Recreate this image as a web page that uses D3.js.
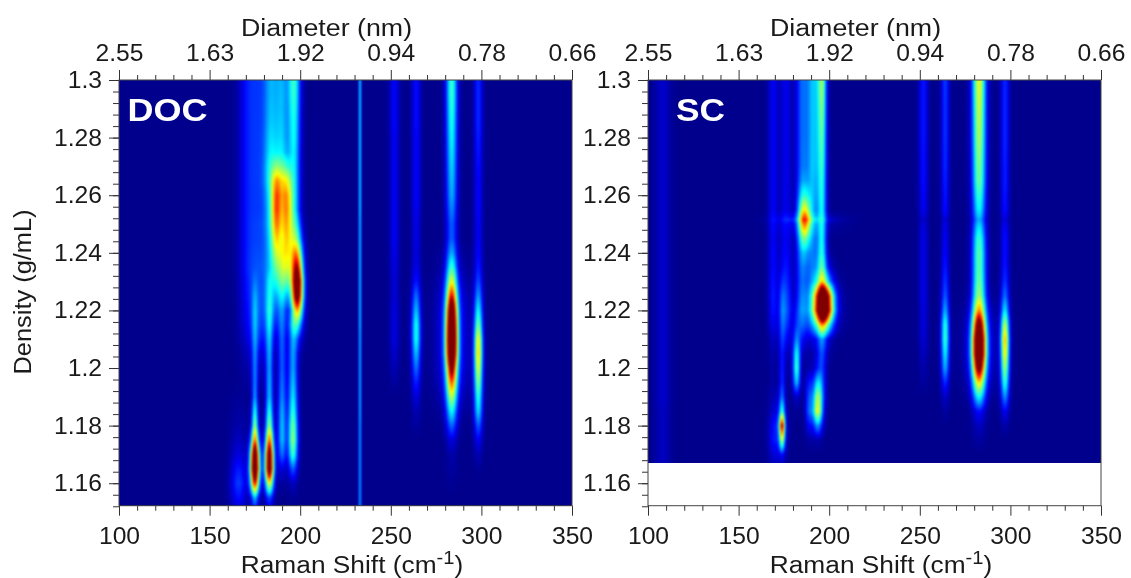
<!DOCTYPE html>
<html>
<head>
<meta charset="utf-8">
<script src="https://cdn.jsdelivr.net/npm/d3@7/dist/d3.min.js"></script>
<style>
    html, body { margin: 0; padding: 0; background: #fff; }
    #chart { position: relative; width: 1131px; height: 578px; overflow: hidden; }
    .image { position: absolute; overflow: hidden; }
    canvas { position: absolute; left: -4px; top: -4px; filter: blur(0.8px); }
    svg { position: absolute; left: 0; top: 0; }
    text { font-family: "Liberation Sans", Arial, sans-serif; fill: #1a1a1a; }
</style>
</head>
<body>
<div id="chart"></div>
<script>
// Tick labels
const shiftTicks = [100, 150, 200, 250, 300, 350];
const diameterLabels = ["2.55", "1.63", "1.92", "0.94", "0.78", "0.66"];
const densityTicks = [1.3, 1.28, 1.26, 1.24, 1.22, 1.2, 1.18, 1.16];

// Intensity colours (jet)
const jetValues = [0, 0.11, 0.36, 0.5, 0.64, 0.89, 1];
const jetColors = ["#00008c", "#0000ff", "#00ffff", "#80ff80", "#ffff00", "#ff0000", "#800000"];

// DOC panel, density rows of the table below
const docDensity = [1.3, 1.295, 1.29, 1.285, 1.28, 1.275, 1.27, 1.265, 1.26, 1.255,
    1.25, 1.245, 1.24, 1.235, 1.23, 1.225, 1.22, 1.215, 1.21, 1.205,
    1.2, 1.195, 1.19, 1.185, 1.18, 1.175, 1.17, 1.165, 1.16, 1.155, 1.15];

// Each band: Raman shift, line width (both cm-1), intensity at each density row
const docBands = [
    [166, 3, [0,0,0,0,0, 0,0,0,0,0, 0,0,0,0,0, 0,0,0,0,0, 0,0,.01,.02,.03, .05,.08,.13,.17,.12, .05]],
    [171, 3.5, [.11,.11,.11,.11,.11, .11,.11,.11,.11,.11, .11,.11,.11,.11,.1, .09,.08,.07,.05,.03, .02,.01,0,0,0, 0,0,0,0,0, 0]],
    [177, 3.5, [.12,.12,.12,.12,.12, .12,.12,.12,.12,.12, .13,.13,.14,.15,.15, .16,.16,.15,.12,.07, .04,.02,0,0,0, 0,0,0,0,0, 0]],
    [175, 1.1, [0,0,0,0,0, 0,0,0,0,0, 0,0,0,0,.05, .1,.14,.15,.16,.18, .2,.22,.26,.33,.42, .35,.2,.1,.1,.15, .05]],
    [175, 1.8, [0,0,0,0,0, 0,0,0,0,0, 0,0,0,0,0, 0,0,0,0,0, 0,0,0,.05,.1, .45,1.05,1.25,.8,.15, .02]],
    [183, 1.4, [0,0,0,0,0, 0,0,0,0,0, 0,0,0,0,.1, .15,.2,.22,.23,.25, .26,.28,.3,.36,.42, .35,.2,.1,.08,.06, .02]],
    [183, 1.7, [0,0,0,0,0, 0,0,0,0,0, 0,0,0,0,0, 0,0,0,0,0, 0,0,0,.03,.1, .45,.95,1.1,.55,.12, .02]],
    [190, 1.6, [0,0,0,0,0, 0,0,0,0,0, 0,0,.08,.1,.1, .1,.12,.16,.2,.2, .2,.22,.24,.28,.3, .3,.22,.08,.02,0, 0]],
    [196, 1.8, [0,0,0,0,0, 0,0,0,0,0, 0,0,0,0,0, 0,0,.2,.24,.26, .27,.3,.34,.4,.48, .52,.42,.2,.05,.01, 0]],
    [184, 3, [.26,.26,.27,.28,.3, .32,.35,.35,.3,.28, .28,.26,.25,.25,.22, .2,.18,.12,.06,.02, 0,0,0,0,0, 0,0,0,0,0, 0]],
    [190, 2.5, [.24,.25,.25,.26,.27, .28,.3,.3,.25,.2, .2,.2,.2,.2,.2, .18,.12,.06,0,0, 0,0,0,0,0, 0,0,0,0,0, 0]],
    [187, 2.1, [0,0,0,0,0, .02,.15,.38,.52,.56, .5,.42,.32,.22,.14, .05,0,0,0,0, 0,0,0,0,0, 0,0,0,0,0, 0]],
    [192.5, 2.1, [0,0,0,0,0, .02,.15,.36,.5,.54, .5,.46,.4,.34,.22, .08,0,0,0,0, 0,0,0,0,0, 0,0,0,0,0, 0]],
    [196.5, 2.4, [.42,.41,.39,.37,.36, .34,.33,.33,.33,.33, .35,.37,.38,.32,.22, .14,.1,.05,0,0, 0,0,0,0,0, 0,0,0,0,0, 0]],
    [198.5, 2.2, [0,0,0,0,0, 0,0,0,0,0, .08,.2,.45,.75,1.1, 1.05,.65,.3,.1,.02, 0,0,0,0,0, 0,0,0,0,0, 0]],
    [233, 0.45, [.38,.38,.38,.38,.38, .38,.38,.38,.38,.38, .36,.36,.36,.36,.36, .36,.36,.36,.34,.34, .34,.34,.34,.34,.32, .32,.32,.32,.32,.32, .32]],
    [252, 1.8, [.11,.11,.11,.11,.1, .1,.1,.1,.1,.1, .1,.1,.09,.08,.07, .07,.08,.08,.08,.06, .04,.02,0,0,0, 0,0,0,0,0, 0]],
    [264, 1.7, [.12,.12,.12,.12,.11, .11,.11,.11,.11,.1, .09,.09,.08,.09,.13, .22,.3,.38,.38,.3, .22,.14,.08,.04,.02, 0,0,0,0,0, 0]],
    [283.6, 2.1, [.42,.42,.4,.38,.36, .34,.32,.3,.28,.24, .2,.2,.26,.38,.55, .8,1.15,1.35,1.45,1.35, .95,.7,.5,.34,.2, .08,.03,.02,.01,0, 0]],
    [284, 5.5, [0,0,0,0,0, 0,0,0,0,0, 0,0,.02,.04,.08, .12,.14,.15,.15,.15, .14,.11,.07,.03,.01, 0,0,0,0,0, 0]],
    [298.3, 1.6, [.15,.15,.15,.15,.14, .13,.12,.11,.11,.11, .1,.1,.11,.13,.18, .26,.36,.48,.64,.68, .6,.5,.4,.33,.2, .1,.04,.01,0,0, 0]]
];

// SC panel, scan stops at 1.167
const scDensity = [1.3, 1.29, 1.28, 1.27, 1.265, 1.26, 1.255, 1.253, 1.2515, 1.25,
    1.245, 1.24, 1.235, 1.23, 1.225, 1.22, 1.215, 1.21, 1.205, 1.2,
    1.195, 1.19, 1.185, 1.18, 1.175, 1.17, 1.167];

const scBands = [
    [108, 3, [.06,.06,.06,.06,.06, .06,.06,.06,.06,.06, .06,.06,.06,.06,.06, .06,.06,.06,.06,.06, .06,.06,.05,.05,.05, .05,.05]],
    [169, 1.8, [.1,.1,.1,.1,.1, .1,.1,.1,.1,.1, .1,.11,.11,.12,.13, .12,.09,.05,.03,.02, .02,.02,.02,.04,.06, .04,.03]],
    [176, 2.5, [.09,.09,.09,.09,.09, .09,.09,.09,.09,.09, .1,.11,.13,.15,.18, .2,.16,.1,.04,.02, .01,0,0,0,0, 0,0]],
    [185, 2.2, [.2,.2,.2,.2,.2, .2,.2,.2,.2,.2, .2,.2,.2,.2,.22, .24,.19,.1,.03,0, 0,0,0,0,0, 0,0]],
    [191, 2.5, [.3,.3,.3,.3,.28, .26,.22,.2,.2,.2, .2,.2,.2,.2,.2, .2,.15,.06,.02,0, 0,0,0,0,0, 0,0]],
    [196, 1.7, [.5,.46,.42,.38,.36, .35,.34,.32,.3,.32, .34,.35,.35,.3,.2, .2,.2,.18,.16,.14, .12,.1,.04,.02,0, 0,0]],
    [186.6, 2.4, [0,0,0,.01,.06, .2,.45,.55,.58,.55, .3,.1,.03,0,0, 0,0,0,0,0, 0,0,0,0,0, 0,0]],
    [188, 11, [0,0,0,0,0, 0,0,.05,.12,.05, 0,0,0,0,0, 0,0,0,0,0, 0,0,0,0,0, 0,0]],
    [197, 3.4, [0,0,0,0,0, 0,0,0,0,0, 0,.02,.1,.35,1.2, 1.3,.5,.08,.02,0, 0,0,0,0,0, 0,0]],
    [197, 6, [0,0,0,0,0, 0,0,0,0,0, 0,0,0,.03,.08, .1,.06,0,0,0, 0,0,0,0,0, 0,0]],
    [193.6, 1.8, [0,0,0,0,0, 0,0,0,0,0, 0,0,0,0,0, 0,0,0,.02,.08, .3,.52,.62,.25,.03, 0,0]],
    [189, 1.5, [0,0,0,0,0, 0,0,0,0,0, 0,0,0,0,0, 0,0,0,0,.03, .12,.18,.2,.1,.02, 0,0]],
    [182, 1.4, [0,0,0,0,0, 0,0,0,0,0, 0,0,0,0,0, .03,.08,.2,.36,.42, .3,.06,.01,0,0, 0,0]],
    [174, 1.1, [0,0,0,0,0, 0,0,0,0,0, 0,0,0,.04,.08, .1,.1,.1,.1,.12, .14,.2,.36,.9,.5, .08,.03]],
    [172, 3, [0,0,0,0,0, 0,0,0,0,0, 0,0,0,0,0, 0,0,0,0,0, 0,.03,.07,.12,.1, .05,.03]],
    [252, 1.7, [.13,.13,.13,.12,.12, .11,.1,.08,.06,.08, .09,.09,.09,.09,.09, .08,.08,.07,.05,.03, .02,0,0,0,0, 0,0]],
    [264, 1.5, [.17,.16,.16,.15,.14, .13,.12,.1,.07,.09, .1,.11,.13,.16,.2, .28,.4,.42,.35,.28, .15,.06,.02,0,0, 0,0]],
    [282.7, 2.5, [.62,.58,.55,.5,.48, .42,.36,.32,.28,.32, .42,.46,.46,.48,.52, .7,1.05,1.35,1.35,1, .62,.35,.12,.05,.02, 0,0]],
    [283, 5.5, [0,0,0,0,0, 0,0,0,0,0, 0,0,0,0,.02, .06,.1,.12,.12,.1, .06,.02,0,0,0, 0,0]],
    [297, 1.6, [.15,.15,.15,.14,.14, .13,.12,.1,.08,.1, .12,.12,.13,.16,.22, .34,.56,.7,.64,.52, .4,.25,.1,.03,0, 0,0]]
];

const panels = [
    { name: "DOC", left: 119, density: docDensity, bands: docBands, labelX: 127.5, labelLen: 80 },
    { name: "SC", left: 648, density: scDensity, bands: scBands, labelX: 676, labelLen: 49 }
];

// Plot frame
const plotWidth = 453,
    top_ = 80,
    bottom = 505.7,
    font = 23.5,
    bleed = 4; // canvas overdraw, keeps the blur from fading at the clipped edges

const jet = d3.scaleLinear().domain(jetValues).range(jetColors).clamp(true);

const svg = d3.select("#chart").append("svg")
    .attr("width", 1131)
    .attr("height", 578);

function range10(a, b, step) {
    // minor tick positions, built on integer steps so they stay exact
    return d3.range(Math.round((b - a) / step) + 1).map(i => +(a + i * step).toFixed(3));
}

// the picture's type is wider than it is tall
function widen(sel, factor) {
    sel.each(function () {
        this.setAttribute("textLength", this.getComputedTextLength() * factor);
        this.setAttribute("lengthAdjust", "spacingAndGlyphs");
    });
}

function drawImage(p, x, y) {
    const h = Math.round(Math.min(y(d3.min(p.density)), bottom) - top_);
    const w = plotWidth + bleed * 2;
    const holder = d3.select("#chart").insert("div", "svg")
        .attr("class", "image")
        .style("left", p.left + "px")
        .style("top", top_ + "px")
        .style("width", plotWidth + "px")
        .style("height", h + "px");
    const canvas = holder.append("canvas")
        .attr("width", w)
        .attr("height", h + bleed * 2)
        .node();
    const ctx = canvas.getContext("2d");
    const img = ctx.createImageData(w, h + bleed * 2);

    // one amplitude scale per band, density -> intensity
    const ampScales = p.bands.map(b => d3.scaleLinear().domain(p.density).range(b[2]).clamp(true));

    for (let j = 0; j < h + bleed * 2; j++) {
        const d = y.invert(top_ - bleed + j + 0.5);
        const amps = ampScales.map(s => s(d));
        for (let i = 0; i < w; i++) {
            const v = x.invert(p.left - bleed + i + 0.5);
            let sum = 0;
            p.bands.forEach((b, k) => {
                const u = (v - b[0]) / b[1];
                sum += amps[k] * Math.exp(-0.5 * u * u);
            });
            const c = d3.rgb(jet(sum));
            const o = (j * w + i) * 4;
            img.data[o] = c.r;
            img.data[o + 1] = c.g;
            img.data[o + 2] = c.b;
            img.data[o + 3] = 255;
        }
    }
    ctx.putImageData(img, 0, 0);
}

function drawPanel(p) {
    const x = d3.scaleLinear().domain([100, 350]).range([p.left, p.left + plotWidth]);
    const y = d3.scaleLinear().domain([1.3, 1.1522]).range([top_, bottom]);

    drawImage(p, x, y);

    const g = svg.append("g").attr("class", "panel");

    // minor ticks first
    const minorX = d3.range(100, 351, 10).filter(d => d % 50 != 0);
    const minorY = range10(1.152, 1.3, 0.004);

    g.append("g").attr("transform", `translate(0,${bottom})`)
        .call(d3.axisBottom(x).tickValues(minorX).tickSize(5).tickFormat(""));
    g.append("g").attr("transform", `translate(0,${top_})`)
        .call(d3.axisTop(x).tickValues(minorX).tickSize(5).tickFormat(""));
    g.append("g").attr("transform", `translate(${p.left},0)`)
        .call(d3.axisLeft(y).tickValues(minorY).tickSize(6).tickFormat(""));

    // major ticks and labels
    g.append("g").attr("class", "major").attr("transform", `translate(0,${bottom})`)
        .call(d3.axisBottom(x).tickValues(shiftTicks).tickSize(10).tickPadding(12).tickFormat(d3.format("d")));
    g.append("g").attr("class", "major").attr("transform", `translate(0,${top_})`)
        .call(d3.axisTop(x).tickValues(shiftTicks).tickSize(10).tickPadding(9)
            .tickFormat((d, i) => diameterLabels[i]));
    g.append("g").attr("class", "major").attr("transform", `translate(${p.left},0)`)
        .call(d3.axisLeft(y).tickValues(densityTicks).tickSize(10).tickPadding(7).tickFormat(d => String(d)));

    g.selectAll("path.domain").remove();
    g.selectAll(".tick line").attr("stroke", "#333");
    g.selectAll(".major text").style("font-size", font + "px").attr("fill", "#1a1a1a").call(widen, 1.05);

    // frame
    g.append("rect")
        .attr("x", p.left)
        .attr("y", top_)
        .attr("width", plotWidth)
        .attr("height", bottom - top_)
        .attr("fill", "none")
        .attr("stroke", "#444")
        .attr("stroke-width", 1);

    // axis titles
    g.append("text")
        .attr("x", x(225) - 19)
        .attr("y", 36)
        .attr("text-anchor", "middle")
        .style("font-size", font + "px")
        .text("Diameter (nm)")
        .call(widen, 1.14);

    const shiftTitle = g.append("text")
        .attr("transform", `translate(${x(225) + 6.5},573) scale(1.12,1)`)
        .attr("text-anchor", "middle")
        .style("font-size", font + "px");
    shiftTitle.append("tspan").text("Raman Shift (cm");
    shiftTitle.append("tspan").attr("dy", -9).style("font-size", "18px").text("-1");
    shiftTitle.append("tspan").attr("dy", 9).text(")");

    // panel name
    g.append("text")
        .attr("x", p.labelX)
        .attr("y", 121)
        .style("font-size", "32px")
        .style("font-weight", "bold")
        .style("fill", "#fff")
        .attr("textLength", p.labelLen)
        .attr("lengthAdjust", "spacingAndGlyphs")
        .text(p.name);
}

panels.forEach(drawPanel);

svg.append("text")
    .attr("transform", "translate(31,292) rotate(-90)")
    .attr("text-anchor", "middle")
    .style("font-size", font + "px")
    .text("Density (g/mL)")
    .call(widen, 1.08);
</script>
</body>
</html>
